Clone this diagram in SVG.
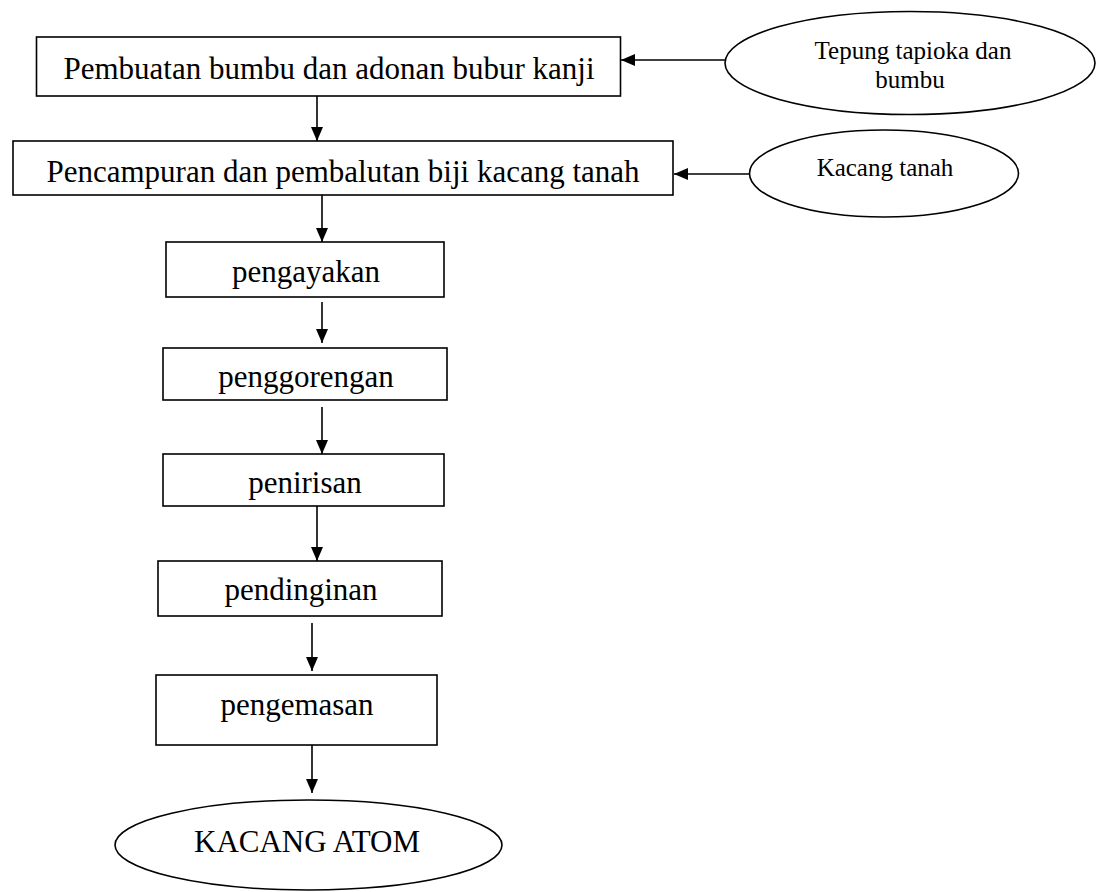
<svg xmlns="http://www.w3.org/2000/svg" width="1097" height="892" viewBox="0 0 1097 892">
<style>
.box{fill:#fff;stroke:#000;stroke-width:1.6}
.t{font-family:"Liberation Serif","Times New Roman",serif;fill:#000;text-anchor:middle}
.big{font-size:31px}
.sm{font-size:25px}
.c{stroke:#000;stroke-width:1.6;fill:none}
</style>
<defs>
<marker id="ah" markerWidth="14" markerHeight="12" refX="14" refY="6" orient="auto" markerUnits="userSpaceOnUse">
<path d="M0,0 L14,6 L0,12 Z" fill="#000"/>
</marker>
</defs>
<rect width="1097" height="892" fill="#fff"/>
<g id="connectors">
<line class="c" x1="317" y1="96" x2="317" y2="141" marker-end="url(#ah)"/>
<line class="c" x1="725" y1="60" x2="621" y2="60" marker-end="url(#ah)"/>
<line class="c" x1="750" y1="174" x2="674" y2="174" marker-end="url(#ah)"/>
<line class="c" x1="322" y1="195" x2="322" y2="242" marker-end="url(#ah)"/>
<line class="c" x1="322" y1="302" x2="322" y2="343" marker-end="url(#ah)"/>
<line class="c" x1="322" y1="407" x2="322" y2="454" marker-end="url(#ah)"/>
<line class="c" x1="317" y1="506" x2="317" y2="561" marker-end="url(#ah)"/>
<line class="c" x1="312" y1="623" x2="312" y2="671" marker-end="url(#ah)"/>
<line class="c" x1="312" y1="745" x2="312" y2="793" marker-end="url(#ah)"/>
</g>
<g id="n-pembuatan">
<rect class="box" x="36.5" y="37" width="584" height="59"/>
<text class="t big" x="329" y="79">Pembuatan bumbu dan adonan bubur kanji</text>
</g>
<g id="n-tepung">
<ellipse class="box" cx="910" cy="63" rx="185" ry="51.5"/>
<text class="t sm" x="913" y="59">Tepung tapioka dan</text>
<text class="t sm" x="910" y="88">bumbu</text>
</g>
<g id="n-pencampuran">
<rect class="box" x="13" y="141" width="660" height="54"/>
<text class="t big" x="343" y="182">Pencampuran dan pembalutan biji kacang tanah</text>
</g>
<g id="n-kacang">
<ellipse class="box" cx="884" cy="173.5" rx="134.5" ry="43.5"/>
<text class="t sm" x="885" y="176">Kacang tanah</text>
</g>
<g id="n-pengayakan">
<rect class="box" x="166" y="242" width="278" height="55"/>
<text class="t big" x="306" y="282">pengayakan</text>
</g>
<g id="n-penggorengan">
<rect class="box" x="163" y="348" width="284" height="52"/>
<text class="t big" x="306" y="387">penggorengan</text>
</g>
<g id="n-penirisan">
<rect class="box" x="163" y="454" width="281" height="52"/>
<text class="t big" x="305" y="493">penirisan</text>
</g>
<g id="n-pendinginan">
<rect class="box" x="158" y="561" width="284" height="55"/>
<text class="t big" x="301" y="600">pendinginan</text>
</g>
<g id="n-pengemasan">
<rect class="box" x="156" y="675" width="281" height="70"/>
<text class="t big" x="297" y="715">pengemasan</text>
</g>
<g id="n-kacang-atom">
<ellipse class="box" cx="308.5" cy="845" rx="193.5" ry="45"/>
<text class="t big" x="307" y="852">KACANG ATOM</text>
</g>
</svg>
